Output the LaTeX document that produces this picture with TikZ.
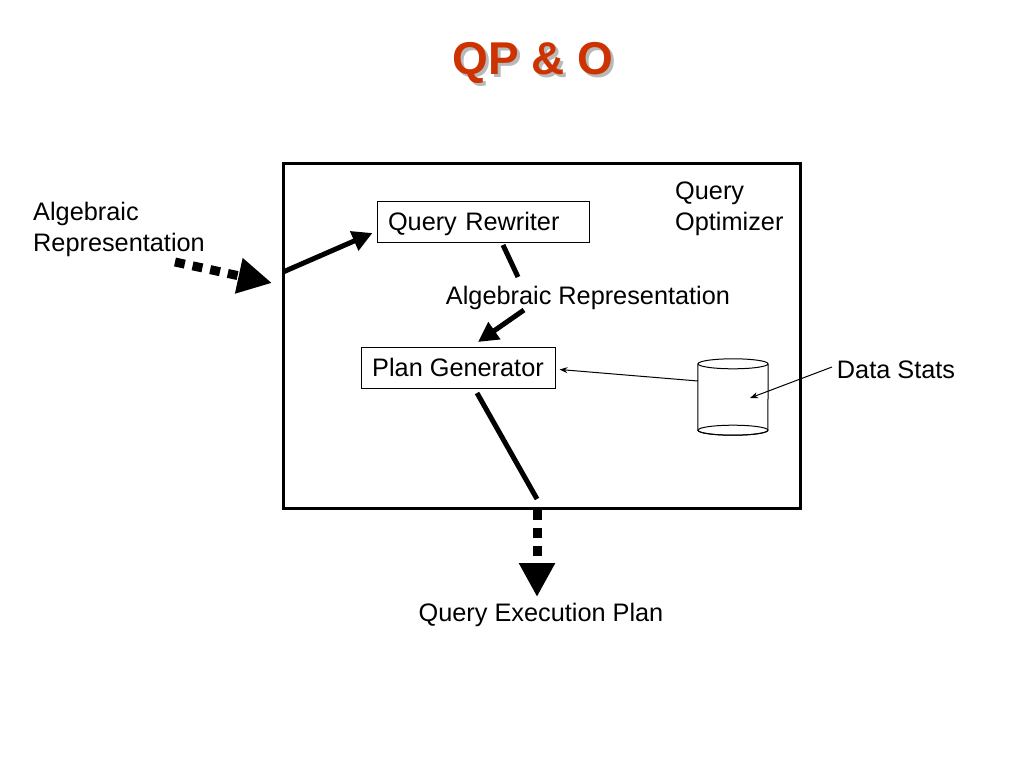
\documentclass[tikz,border=0pt]{standalone}
\usepackage{fontspec}
\setmainfont{Liberation Sans}
\usetikzlibrary{arrows.meta,calc}
\definecolor{titlered}{RGB}{204,51,0}
\begin{document}
\begin{tikzpicture}[x=1pt,y=-1pt,
  lbl/.style={font=\fontsize{25.3}{31}\selectfont, inner sep=0pt},
  boxnode/.style={draw, line width=1pt, font=\fontsize{25.3}{31}\selectfont, minimum height=41pt, inner sep=0pt, text height=22pt, text depth=4pt},
  thickline/.style={line width=5pt},
  thickarrow/.style={line width=5pt, -{Triangle[length=20pt,width=20pt]}},
  bigdash/.style={line width=9pt, dash pattern=on 10pt off 8pt, -{Triangle[length=34pt,width=34pt]}},
  thinarrow/.style={line width=1pt, -{Stealth[length=8pt,width=6pt]}}]
\useasboundingbox (0,0) rectangle (1024,768);
% title (with shadow in the same node)
\node[font=\fontsize{46}{55}\selectfont\bfseries, inner sep=0pt] (title) at (533,64)
  {\makebox[0pt][l]{\hspace{3pt}\raisebox{-3pt}{\textcolor{gray!55}{QP \& O}}}\textcolor{titlered}{QP \& O}};
% optimizer box
\node[draw, line width=3pt, minimum width=517pt, minimum height=345pt, inner sep=0pt] (qo) at (541.5,335.5) {};
\node[lbl, align=left, anchor=north west] (qolbl) at (675,182) {Query\\Optimizer};
% boxes
\node[boxnode, minimum width=212pt, text width=190pt, align=left] (qr) at (483,221.5) {Query Rewriter};
\node[boxnode, minimum width=194pt] (pg) at (458,367.5) {Plan Generator};
\node[lbl] (ar) at (588,298) {Algebraic Representation};
% left label
\node[lbl, align=left, anchor=north west] (inlbl) at (33,202) {Algebraic\\Representation};
% output label
\node[lbl] (out) at (541,615) {Query Execution Plan};
% data stats
\node[lbl] (ds) at (896,370) {Data Stats};
% cylinder
\node[minimum width=70pt, minimum height=66pt, inner sep=0pt] (db) at (733,397) {};
\draw[line width=1pt, fill=white] (db.north west) -- (db.south west) arc[start angle=180,end angle=360,x radius=35pt,y radius=5pt] -- (db.north east);
\draw[line width=1pt] (db.north) ellipse[x radius=35pt,y radius=5pt];
\draw[line width=1pt] (db.south) ellipse[x radius=35pt,y radius=5pt];
% coordinates
\coordinate (inA) at (175,262);
\coordinate (inB) at (272,283);
\coordinate (qoIn) at (283,272);
\coordinate (qrIn) at ($(qr.west)+(-4,11.5)$);
\coordinate (qrOut) at (503,245);
\coordinate (arTop) at (518,277);
\coordinate (arBot) at (524,310);
\coordinate (pgIn) at (478,342);
\coordinate (pgOut) at (477,393);
\coordinate (qoOut) at (537,499);
\coordinate (outA) at (537,510);
\coordinate (outB) at (537,597);
\coordinate (dbOut) at (698,381);
\coordinate (pgE) at ($(pg.east)+(4,2)$);
\coordinate (dsA) at (832,367);
\coordinate (dbIn) at (750,398);
% connectors
\draw[bigdash] (inA) -- (inB);
\draw[thickarrow] (qoIn) -- (qrIn);
\draw[thickline] (qrOut) -- (arTop);
\draw[thickarrow] (arBot) -- (pgIn);
\draw[thickline] (pgOut) -- (qoOut);
\draw[bigdash] (outA) -- (outB);
\draw[thinarrow] (dbOut) -- (pgE);
\draw[thinarrow] (dsA) -- (dbIn);
\end{tikzpicture}
\end{document}
